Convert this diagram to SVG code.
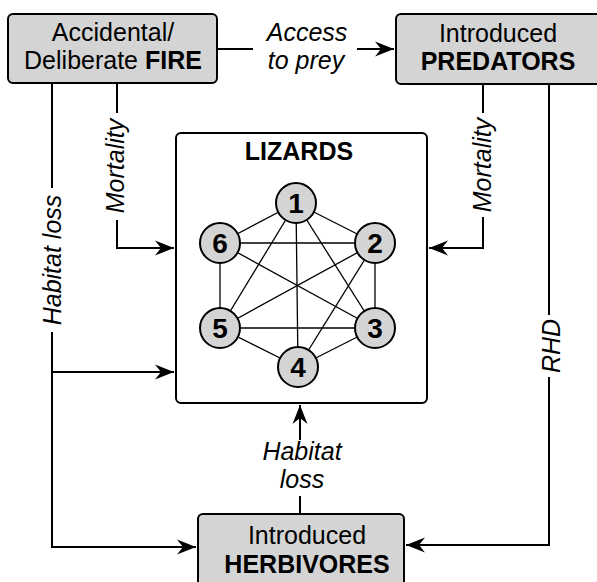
<svg xmlns="http://www.w3.org/2000/svg" width="597" height="582" viewBox="0 0 597 582">
<style>
text{font-family:"Liberation Sans",Arial,sans-serif;fill:#000}
.box{fill:#d4d4d4;stroke:#000;stroke-width:2}
.lz{fill:#fff;stroke:#000;stroke-width:2}
.bt{font-size:25px;text-anchor:middle}
.b{font-weight:bold}
.lab{font-size:25px;font-style:italic;text-anchor:middle}
.con{fill:none;stroke:#000;stroke-width:2}
.edge{stroke:#000;stroke-width:1.3}
.nd{fill:#d4d4d4;stroke:#000;stroke-width:2}
.num{font-size:28px;font-weight:bold;text-anchor:middle}
</style>
<defs>
<marker id="ah" viewBox="-19 -8 20 16" refX="0" refY="0" markerWidth="20" markerHeight="16" markerUnits="userSpaceOnUse" orient="auto">
<path d="M0,0 L-19,-7.5 L-13,0 L-19,7.5 Z" fill="#000"/>
</marker>
</defs>
<rect width="597" height="582" fill="#fff"/>

<g id="connectors">
<path class="con" d="M217,49 H253"/>
<path class="con" d="M357,49 H394" marker-end="url(#ah)"/>
<path class="con" d="M117,83 V113"/>
<path class="con" d="M117,220 V248 H174" marker-end="url(#ah)"/>
<path class="con" d="M52,83 V188"/>
<path class="con" d="M52,332 V547 H196" marker-end="url(#ah)"/>
<path class="con" d="M52,372 H174" marker-end="url(#ah)"/>
<path class="con" d="M483,84 V113"/>
<path class="con" d="M483,217 V248 H429" marker-end="url(#ah)"/>
<path class="con" d="M549,84 V315"/>
<path class="con" d="M549,377 V545 H406" marker-end="url(#ah)"/>
<path class="con" d="M300,514 V496"/>
<path class="con" d="M300,440 V405" marker-end="url(#ah)"/>
<text class="lab" x="307" y="41">Access</text>
<text class="lab" x="306" y="69">to prey</text>
<text class="lab" transform="translate(124,166) rotate(-90)">Mortality</text>
<text class="lab" transform="translate(61,260) rotate(-90)">Habitat loss</text>
<text class="lab" transform="translate(491,165) rotate(-90)">Mortality</text>
<text class="lab" transform="translate(560,346) rotate(-90)">RHD</text>
<text class="lab" x="302" y="460">Habitat</text>
<text class="lab" x="302" y="488">loss</text>
</g>

<g id="fire">
<rect class="box" x="8" y="14" width="209" height="69" rx="5"/>
<text class="bt" x="113" y="41">Accidental/</text>
<text class="bt" x="113" y="69">Deliberate <tspan class="b">FIRE</tspan></text>
</g>

<g id="predators">
<rect class="box" x="396" y="14" width="215" height="70" rx="5"/>
<text class="bt" x="498" y="42">Introduced</text>
<text class="bt b" x="498" y="70">PREDATORS</text>
</g>

<g id="herbivores">
<rect class="box" x="198" y="514" width="206" height="80" rx="5"/>
<text class="bt" x="307" y="544">Introduced</text>
<text class="bt b" x="307" y="573">HERBIVORES</text>
</g>

<g id="lizards">
<rect class="lz" x="176" y="133" width="251" height="270" rx="5"/>
<text class="bt b" x="299" y="160">LIZARDS</text>
<g id="lizard-edges">
<line class="edge" x1="296" y1="203" x2="220" y2="243"/>
<line class="edge" x1="296" y1="203" x2="375" y2="243"/>
<line class="edge" x1="296" y1="203" x2="220" y2="328"/>
<line class="edge" x1="296" y1="203" x2="375" y2="328"/>
<line class="edge" x1="296" y1="203" x2="298" y2="367"/>
<line class="edge" x1="220" y1="243" x2="375" y2="243"/>
<line class="edge" x1="220" y1="243" x2="220" y2="328"/>
<line class="edge" x1="220" y1="243" x2="375" y2="328"/>
<line class="edge" x1="375" y1="243" x2="220" y2="328"/>
<line class="edge" x1="375" y1="243" x2="298" y2="367"/>
<line class="edge" x1="375" y1="243" x2="375" y2="328"/>
<line class="edge" x1="220" y1="328" x2="375" y2="328"/>
<line class="edge" x1="220" y1="328" x2="298" y2="367"/>
<line class="edge" x1="375" y1="328" x2="298" y2="367"/>
</g>
<g id="n1"><circle class="nd" cx="296" cy="203" r="20"/><text class="num" x="296" y="213">1</text></g>
<g id="n2"><circle class="nd" cx="375" cy="243" r="20"/><text class="num" x="375" y="253">2</text></g>
<g id="n3"><circle class="nd" cx="375" cy="328" r="20"/><text class="num" x="375" y="338">3</text></g>
<g id="n4"><circle class="nd" cx="298" cy="367" r="20"/><text class="num" x="298" y="377">4</text></g>
<g id="n5"><circle class="nd" cx="220" cy="328" r="20"/><text class="num" x="220" y="338">5</text></g>
<g id="n6"><circle class="nd" cx="220" cy="243" r="20"/><text class="num" x="220" y="253">6</text></g>
</g>
</svg>
